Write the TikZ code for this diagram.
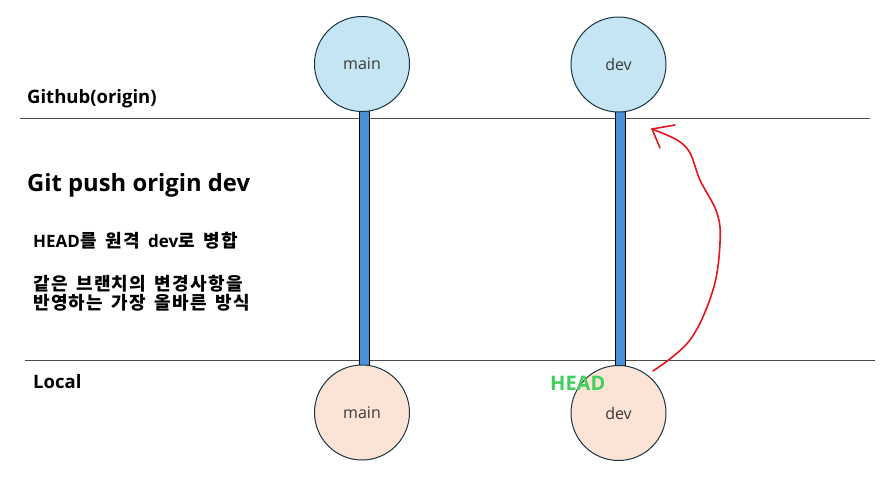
\documentclass[tikz,border=0pt]{standalone}
\usepackage{fontspec}
\setmainfont{Open Sans}
\newfontfamily\kr{Noto Sans CJK KR}[LetterSpace=7, WordSpace=1.6]
\usetikzlibrary{arrows.meta}
\definecolor{topfill}{HTML}{C5E5F4}
\definecolor{botfill}{HTML}{FBE3D6}
\definecolor{ringcol}{HTML}{1A3440}
\definecolor{barcol}{HTML}{4A90D9}
\definecolor{headgreen}{HTML}{3FD05A}
\definecolor{arrowred}{HTML}{E8141E}
\definecolor{textcol}{HTML}{3A3A3A}
\tikzset{
  branch/.style={circle, draw=ringcol, line width=1pt, minimum size=95pt, inner sep=0pt, font=\fontsize{16}{18}\selectfont, text=textcol},
  remote/.style={branch, fill=topfill},
  localb/.style={branch, fill=botfill},
  bar/.style={draw=black, line width=0.6pt, fill=barcol},
  sep/.style={draw=black!70, line width=0.8pt},
  lbl/.style={anchor=west, inner sep=0pt, font=\bfseries\fontsize{18.5}{20}\selectfont},
  note/.style={anchor=west, inner sep=0pt, align=left, font=\bfseries\fontsize{17}{19}\selectfont},
}
\begin{document}
\begin{tikzpicture}[x=1pt,y=-1pt]
\useasboundingbox (0,0) rectangle (895,483);
% separators
\coordinate (t1) at (20,118); \coordinate (t2) at (870,118);
\coordinate (b1) at (25,360); \coordinate (b2) at (875,360);
\draw[sep] (t1) -- (t2);
\draw[sep] (b1) -- (b2);
% bars
\draw[bar] (359,110) rectangle (369,369);
\draw[bar] (615,110) rectangle (625,369);
% branch circles
\node[remote] (rmain) at (362,64) {\raisebox{-2pt}{main}};
\node[remote] (rdev) at (618.5,64.5) {\raisebox{-2pt}{dev}};
\node[localb] (lmain) at (362,412.5) {\raisebox{-2pt}{main}};
\node[localb] (ldev) at (618.5,413) {\raisebox{-2pt}{dev}};
% texts
\node[lbl] (github) at (27,99) {Github(origin)};
\node[anchor=west, inner sep=0pt, font=\bfseries\fontsize{23.8}{26}\selectfont] (cmd) at (27,185) {Git push origin dev};
\node[note] (n1) at (33,241) {HEAD{\kr\fontsize{18}{19}\selectfont 를 원격 }dev{\kr\fontsize{18}{19}\selectfont 로 병합}};
\node[note, anchor=west, font=\kr\bfseries\fontsize{18}{19}\selectfont] (n2) at (33,293) {같은 브랜치의 변경사항을\\반영하는 가장 올바른 방식};
\node[lbl] (local) at (33,382) {Local};
\node[anchor=west, inner sep=0pt, text=headgreen, font=\bfseries\fontsize{20}{22}\selectfont] (head) at (550,383) {HEAD};
% red hand-drawn arrow
\coordinate (s) at (653,371);
\coordinate (tip) at (652,129);
\coordinate (h1) at (675,125);
\coordinate (h2) at (660,148);
\draw[arrowred, line width=1.6pt, line cap=round, line join=round]
  plot[smooth, tension=0.6] coordinates {(653,371) (690,340) (713,290) (720,243) (717,213) (700,180) (690,153) (677,140) (652,129)};
\draw[arrowred, line width=1.6pt, line cap=round, line join=round] (h1) -- (tip) -- (h2);
\end{tikzpicture}
\end{document}
